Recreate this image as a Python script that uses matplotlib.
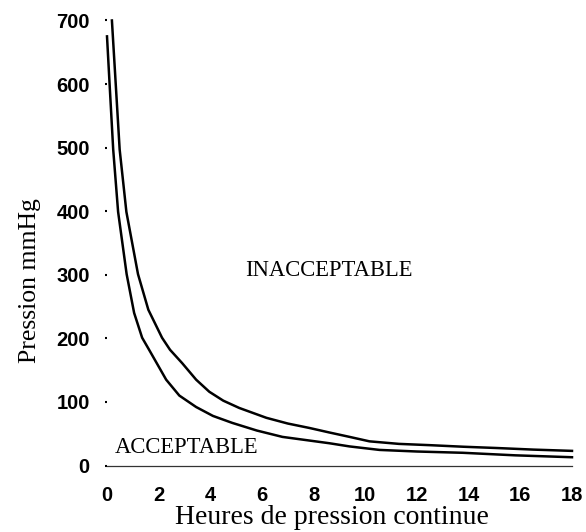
import matplotlib
matplotlib.use("Agg")
import matplotlib.pyplot as plt

# upper limit curve (hours, mmHg)
upper_hours = [0.19, 0.49, 0.75, 1.2, 1.6, 2.13, 2.44, 2.91, 3.45, 3.96, 4.5, 5.12, 6.17, 7.0, 7.84, 8.6, 9.39, 10.16, 11.3, 12.49, 13.8, 15.09, 16.5, 18.0]
upper_mmhg = [700, 497, 399, 301, 245, 201, 182, 161, 135, 116, 102, 90.5, 75, 66, 59, 52, 45, 38, 34, 32, 29.5, 27.5, 25, 23]

# lower limit curve
lower_hours = [0.0, 0.1, 0.24, 0.43, 0.76, 1.05, 1.36, 1.63, 2.29, 2.8, 3.45, 4.1, 4.85, 5.8, 6.79, 7.7, 8.61, 9.39, 10.55, 12.0, 13.77, 15.8, 18.0]
lower_mmhg = [675, 600, 497, 399, 301, 240, 201, 182, 135, 110, 92, 78, 67, 55, 45, 40, 35, 30, 24.5, 22, 20, 16, 13]

x_ticks = [0, 2, 4, 6, 8, 10, 12, 14, 16, 18]
y_ticks = [0, 100, 200, 300, 400, 500, 600, 700]

serif = ["Liberation Serif", "DejaVu Serif"]
sans = ["Liberation Sans", "DejaVu Sans"]

fig = plt.figure(figsize=(5.86, 5.32), dpi=100)
ax = fig.add_axes([0.1826, 0.125, 0.7935, 0.8365])

ax.plot(upper_hours, upper_mmhg, color="black", linewidth=1.8, clip_on=False)
ax.plot(lower_hours, lower_mmhg, color="black", linewidth=1.8, clip_on=False)

ax.set_xlim(0, 18)
ax.set_ylim(0, 700)

for side in ["top", "right", "left"]:
    ax.spines[side].set_visible(False)
ax.spines["bottom"].set_color("#333333")
ax.spines["bottom"].set_linewidth(0.9)

ax.set_xticks(x_ticks)
ax.set_yticks(y_ticks)
ax.tick_params(axis="x", length=0, pad=15)
ax.tick_params(axis="y", length=1.5, width=1.5, pad=11)
for lbl in ax.get_xticklabels() + ax.get_yticklabels():
    lbl.set_family(sans)
    lbl.set_fontweight("bold")
    lbl.set_fontsize(14.5)

ax.set_xlabel("Heures de pression continue", family=serif, fontsize=20)
ax.xaxis.label.set_va("center")
ax.xaxis.set_label_coords(0.483, -0.116)
ax.set_ylabel("Pression mmHg", family=serif, fontsize=18.5)
ax.yaxis.label.set_va("center")
ax.yaxis.set_label_coords(-0.166, 0.415)

ax.text(8.6, 307, "INACCEPTABLE", family=serif, fontsize=16.3, ha="center", va="center")
ax.text(3.1, 29, "ACCEPTABLE", family=serif, fontsize=16.3, ha="center", va="center")

fig.savefig("out.png", dpi=100)
